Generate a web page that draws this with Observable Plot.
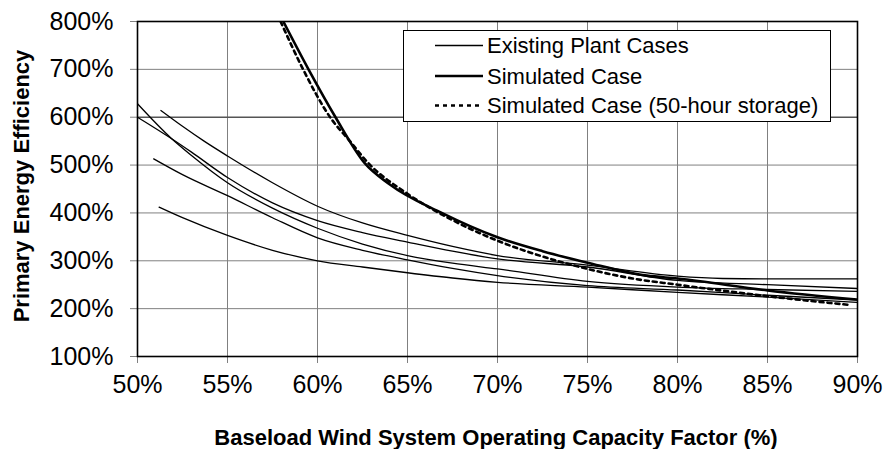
<!DOCTYPE html>
<html>
<head>
<meta charset="utf-8">
<script src="https://cdn.jsdelivr.net/npm/d3@7"></script>
<script src="https://cdn.jsdelivr.net/npm/@observablehq/plot@0.6"></script>
<style>
  html, body { margin: 0; padding: 0; background: white; }
</style>
</head>
<body>
<div id="chart"></div>
<script>
const xTicks = [50, 55, 60, 65, 70, 75, 80, 85, 90];
const yTicks = [100, 200, 300, 400, 500, 600, 700, 800];

const legendLabels = ["Existing Plant Cases", "Simulated Case", "Simulated Case (50-hour storage)"];
const xTitle = "Baseload Wind System Operating Capacity Factor (%)";
const yTitle = "Primary Energy Efficiency";

// Existing plant cases (capacity factor %, efficiency %)
const existingC = [[51.3,614],[52.5,581],[53.7,550],[55,519],[57.5,463],[60,414],[62.5,379],[65,353],[67.5,330],[70,311],[75,291],[80,268],[82.5,263],[85,262],[90,262]];
const existingB = [[50,600],[51.9,555],[53,527],[55,474],[57.5,421],[60,384],[62.5,359],[65,339],[67.5,320],[70,304],[75,287],[80,259],[85,250],[90,242]];
const existingA = [[50,628],[51.9,555],[53,520],[55,463],[57.5,410],[60,368],[62.5,335],[65,311],[67.5,295],[70,283],[75,257],[80,245],[85,240],[90,236]];
const existingD = [[50.9,513],[52.5,480],[55,436],[57.5,390],[60,348],[62.5,322],[65,302],[67.5,284],[70,269],[75,248],[80,239],[85,228],[90,218]];
const existingE = [[51.2,412],[52.5,390],[55,353],[57.5,322],[60,300],[62.5,287],[65,275],[67.5,264],[70,255],[75,245],[80,234],[85,224],[90,213]];

const simulated = [[58.1,800],[59.5,700],[61,600],[62.6,505],[64,460],[66.9,400],[70,349],[72.5,320],[75,296],[78.3,269],[80,263],[85,238],[90,219]];
const simulated50 = [[57.95,800],[59.2,700],[60.7,600],[61.8,550],[62.8,505],[65,440],[67.5,385],[70,342],[72.5,309],[75,283],[77.5,263],[80,250],[85,226],[89.5,208]];

const toRows = (arr, id) => arr.map(([x, y]) => ({x, y, id}));
const existing = [
  ...toRows(existingA, "A"), ...toRows(existingB, "B"), ...toRows(existingC, "C"),
  ...toRows(existingD, "D"), ...toRows(existingE, "E")
];
const sim = toRows(simulated, "S");
const sim50 = toRows(simulated50, "S50");

const pct = d => d + "%";
const font = "'Liberation Sans', Arial, Helvetica, sans-serif";

const chart = Plot.plot({
  width: 883,
  height: 449,
  marginLeft: 137,
  marginRight: 26,
  marginTop: 21,
  marginBottom: 93,
  style: { fontFamily: font, fontSize: "25px", background: "white", color: "black" },
  x: { domain: [50, 90] },
  y: { domain: [100, 800] },
  marks: [
    Plot.gridX(xTicks, { stroke: "#808080", strokeOpacity: 1, strokeWidth: 1 }),
    Plot.gridY(yTicks.filter(d => d !== 600), { stroke: "#808080", strokeOpacity: 1, strokeWidth: 1 }),
    Plot.gridY([600], { stroke: "#555", strokeOpacity: 1, strokeWidth: 1.6 }),
    Plot.axisX({ ticks: xTicks, tickFormat: pct, tickSize: 7, tickPadding: 12, label: null, stroke: "#808080", fill: "black" }),
    Plot.axisY({ ticks: yTicks, tickFormat: pct, tickSize: 7, tickPadding: 17, label: null, stroke: "#808080", fill: "black" }),
    Plot.line(existing, { x: "x", y: "y", z: "id", stroke: "black", strokeWidth: 1.3, curve: "monotone-x", clip: true }),
    Plot.line(sim, { x: "x", y: "y", stroke: "black", strokeWidth: 2.6, curve: "monotone-x", clip: true }),
    Plot.line(sim50, { x: "x", y: "y", stroke: "black", strokeWidth: 2.6, strokeDasharray: "4,4", curve: "monotone-x", clip: true }),
    Plot.frame({ stroke: "black", strokeWidth: 1.6 })
  ]
});

const svg = d3.select(chart);

// Axis titles
svg.append("text")
  .attr("x", 496).attr("y", 437).attr("dy", "0.35em")
  .attr("text-anchor", "middle")
  .attr("font-family", font).attr("font-size", 22).attr("font-weight", "bold")
  .attr("fill", "black")
  .text(xTitle);

svg.append("text")
  .attr("transform", "translate(21,186) rotate(-90)")
  .attr("dy", "0.35em")
  .attr("text-anchor", "middle")
  .attr("font-family", font).attr("font-size", 22).attr("font-weight", "bold")
  .attr("fill", "black")
  .text(yTitle);

// Legend
const lg = svg.append("g");
lg.append("rect")
  .attr("x", 403.5).attr("y", 30.5).attr("width", 427).attr("height", 91)
  .attr("fill", "white").attr("stroke", "black").attr("stroke-width", 1);
const rowsY = [53, 83.5, 113];
const styles = [
  { w: 1.3, dash: null },
  { w: 2.6, dash: null },
  { w: 2.6, dash: "4,4" }
];
legendLabels.forEach((lab, i) => {
  const ly = rowsY[i] - 7.5;
  const ln = lg.append("line")
    .attr("x1", 435).attr("x2", 483).attr("y1", ly).attr("y2", ly)
    .attr("stroke", "black").attr("stroke-width", styles[i].w);
  if (styles[i].dash) ln.attr("stroke-dasharray", styles[i].dash);
  lg.append("text")
    .attr("x", 487).attr("y", rowsY[i])
    .attr("text-anchor", "start")
    .attr("font-family", font).attr("font-size", 22)
    .attr("fill", "black")
    .text(lab);
});

document.getElementById("chart").appendChild(chart);
</script>
</body>
</html>
